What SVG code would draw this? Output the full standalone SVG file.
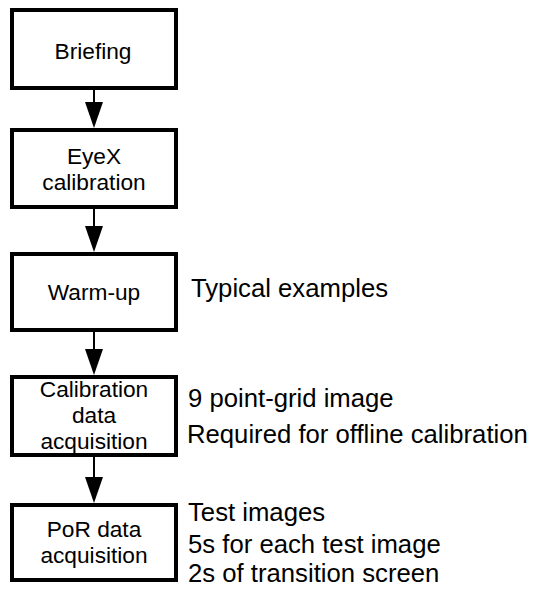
<svg xmlns="http://www.w3.org/2000/svg" width="535" height="594" viewBox="0 0 535 594">
  <defs>
    <marker id="arrow" viewBox="0 0 26 18" markerWidth="26" markerHeight="18" refX="21" refY="9" orient="auto" markerUnits="userSpaceOnUse">
      <path d="M0,0 L26,9 L0,18 Z" fill="#000"/>
    </marker>
    <style>
      .box { fill: #fff; stroke: #000; stroke-width: 4; }
      .label { font-family: "Liberation Sans", Arial, sans-serif; font-size: 22.7px; fill: #000; text-anchor: middle; }
      .note { font-family: "Liberation Sans", Arial, sans-serif; font-size: 25.7px; fill: #000; }
      .edge { stroke: #000; stroke-width: 2; fill: none; marker-end: url(#arrow); }
    </style>
  </defs>

  <rect width="535" height="594" fill="#fff"/>

  <g id="connectors">
    <line class="edge" x1="94" y1="90" x2="94" y2="123"/>
    <line class="edge" x1="94" y1="209" x2="94" y2="247"/>
    <line class="edge" x1="94" y1="332" x2="94" y2="370"/>
    <line class="edge" x1="94" y1="457" x2="94" y2="498"/>
  </g>

  <g id="briefing">
    <rect class="box" x="12" y="10" width="164" height="78"/>
    <text class="label" x="93" y="58.5">Briefing</text>
  </g>

  <g id="eyex-calibration">
    <rect class="box" x="12" y="130" width="164" height="77"/>
    <text class="label" x="94" y="163.5">EyeX</text>
    <text class="label" x="94" y="190">calibration</text>
  </g>

  <g id="warm-up">
    <rect class="box" x="12" y="254" width="164" height="76"/>
    <text class="label" x="94" y="300">Warm-up</text>
  </g>

  <g id="calibration-data">
    <rect class="box" x="12" y="377" width="164" height="78"/>
    <text class="label" x="94" y="396.5">Calibration</text>
    <text class="label" x="94" y="423">data</text>
    <text class="label" x="94" y="449">acquisition</text>
  </g>

  <g id="por-data">
    <rect class="box" x="12" y="505" width="164" height="75"/>
    <text class="label" x="94" y="536.5">PoR data</text>
    <text class="label" x="94" y="562.5">acquisition</text>
  </g>

  <g id="notes">
    <text class="note" x="191" y="296.5">Typical examples</text>
    <text class="note" x="188" y="406.5">9 point-grid image</text>
    <text class="note" x="187" y="443">Required for offline calibration</text>
    <text class="note" x="188" y="520.5">Test images</text>
    <text class="note" x="188" y="553">5s for each test image</text>
    <text class="note" x="188" y="581.5">2s of transition screen</text>
  </g>
</svg>
